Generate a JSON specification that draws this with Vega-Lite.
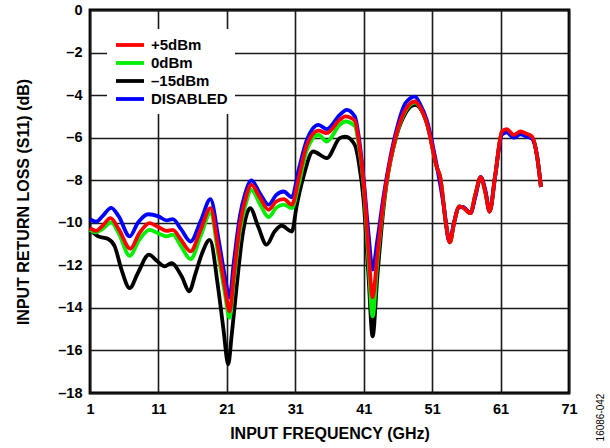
{
  "$schema": "https://vega.github.io/schema/vega-lite/v6.json",
  "autosize": "none",
  "padding": {"left": 90, "top": 10, "right": 41, "bottom": 55},
  "width": 479,
  "height": 383,
  "background": "white",
  "config": {
    "view": {"stroke": "#000", "strokeWidth": 2.8},
    "axis": {
      "labelFont": "Liberation Sans", "labelFontSize": 14.5, "labelFontWeight": "bold", "labelColor": "#000",
      "titleFont": "Liberation Sans", "titleFontSize": 16, "titleFontWeight": "bold", "titleColor": "#000",
      "grid": true, "gridColor": "#1a1a1a", "gridWidth": 1.6, "gridOpacity": 1,
      "ticks": false, "domain": false, "labelFlush": false, "labelOverlap": false
    },
    "legend": {
      "orient": "none", "legendX": 17, "legendY": 19, "fillColor": "white", "padding": 7,
      "symbolType": "M-1,0H3", "symbolSize": 196, "symbolStrokeWidth": 3.6, "symbolOpacity": 1,
      "labelFont": "Liberation Sans", "labelFontSize": 15, "labelFontWeight": "bold", "labelColor": "#000",
      "labelOffset": 19, "rowPadding": 1, "title": null
    },
    "line": {"strokeWidth": 3.8, "interpolate": "monotone"}
  },
  "data": {"values": [
    {"s":"DISABLED","f":1.0,"v":-9.83},{"s":"DISABLED","f":1.9,"v":-9.95},{"s":"DISABLED","f":2.8,"v":-9.7},{"s":"DISABLED","f":4.1,"v":-9.3},{"s":"DISABLED","f":5.2,"v":-9.7},{"s":"DISABLED","f":6.8,"v":-10.64},{"s":"DISABLED","f":8.0,"v":-10.0},{"s":"DISABLED","f":9.5,"v":-9.6},{"s":"DISABLED","f":11.0,"v":-9.7},{"s":"DISABLED","f":12.2,"v":-9.89},{"s":"DISABLED","f":13.1,"v":-9.83},{"s":"DISABLED","f":14.3,"v":-10.3},{"s":"DISABLED","f":15.7,"v":-10.88},{"s":"DISABLED","f":17.2,"v":-9.9},{"s":"DISABLED","f":18.6,"v":-8.89},{"s":"DISABLED","f":19.8,"v":-10.8},{"s":"DISABLED","f":20.7,"v":-12.5},{"s":"DISABLED","f":21.4,"v":-13.5},{"s":"DISABLED","f":22.0,"v":-11.9},{"s":"DISABLED","f":22.9,"v":-9.7},{"s":"DISABLED","f":23.7,"v":-8.6},{"s":"DISABLED","f":24.6,"v":-8.01},{"s":"DISABLED","f":25.8,"v":-8.6},{"s":"DISABLED","f":27.1,"v":-9.15},{"s":"DISABLED","f":28.2,"v":-8.7},{"s":"DISABLED","f":29.3,"v":-8.53},{"s":"DISABLED","f":30.5,"v":-8.8},{"s":"DISABLED","f":31.5,"v":-7.5},{"s":"DISABLED","f":32.7,"v":-6.1},{"s":"DISABLED","f":34.4,"v":-5.4},{"s":"DISABLED","f":35.6,"v":-5.6},{"s":"DISABLED","f":37.5,"v":-4.93},{"s":"DISABLED","f":38.5,"v":-4.69},{"s":"DISABLED","f":39.7,"v":-5.0},{"s":"DISABLED","f":40.3,"v":-6.0},{"s":"DISABLED","f":41.0,"v":-7.98},{"s":"DISABLED","f":41.7,"v":-10.5},{"s":"DISABLED","f":42.3,"v":-12.2},{"s":"DISABLED","f":43.0,"v":-10.8},{"s":"DISABLED","f":43.9,"v":-8.76},{"s":"DISABLED","f":45.8,"v":-5.63},{"s":"DISABLED","f":47.1,"v":-4.38},{"s":"DISABLED","f":48.5,"v":-4.07},{"s":"DISABLED","f":49.2,"v":-4.4},{"s":"DISABLED","f":50.2,"v":-5.16},{"s":"DISABLED","f":51.7,"v":-7.36},{"s":"DISABLED","f":52.7,"v":-9.2},{"s":"DISABLED","f":53.5,"v":-10.88},{"s":"DISABLED","f":54.2,"v":-10.0},{"s":"DISABLED","f":54.8,"v":-9.31},{"s":"DISABLED","f":55.5,"v":-9.25},{"s":"DISABLED","f":56.6,"v":-9.55},{"s":"DISABLED","f":57.3,"v":-8.8},{"s":"DISABLED","f":58.1,"v":-7.86},{"s":"DISABLED","f":58.8,"v":-8.5},{"s":"DISABLED","f":59.4,"v":-9.47},{"s":"DISABLED","f":60.2,"v":-7.82},{"s":"DISABLED","f":61.2,"v":-5.85},{"s":"DISABLED","f":61.9,"v":-5.75},{"s":"DISABLED","f":62.9,"v":-6.0},{"s":"DISABLED","f":63.9,"v":-5.85},{"s":"DISABLED","f":64.8,"v":-5.95},{"s":"DISABLED","f":65.6,"v":-6.05},{"s":"DISABLED","f":66.3,"v":-6.8},{"s":"DISABLED","f":66.9,"v":-8.32},

    {"s":"+5dBm","f":1.0,"v":-10.25},{"s":"+5dBm","f":1.9,"v":-10.38},{"s":"+5dBm","f":2.8,"v":-10.15},{"s":"+5dBm","f":4.0,"v":-9.78},{"s":"+5dBm","f":5.2,"v":-10.3},{"s":"+5dBm","f":6.9,"v":-11.22},{"s":"+5dBm","f":8.2,"v":-10.5},{"s":"+5dBm","f":9.7,"v":-10.02},{"s":"+5dBm","f":11.0,"v":-10.2},{"s":"+5dBm","f":12.2,"v":-10.38},{"s":"+5dBm","f":13.1,"v":-10.33},{"s":"+5dBm","f":14.3,"v":-10.8},{"s":"+5dBm","f":15.7,"v":-11.34},{"s":"+5dBm","f":17.2,"v":-10.3},{"s":"+5dBm","f":18.6,"v":-9.31},{"s":"+5dBm","f":19.8,"v":-11.3},{"s":"+5dBm","f":20.7,"v":-13.0},{"s":"+5dBm","f":21.4,"v":-14.16},{"s":"+5dBm","f":22.0,"v":-12.5},{"s":"+5dBm","f":22.9,"v":-10.1},{"s":"+5dBm","f":23.7,"v":-8.9},{"s":"+5dBm","f":24.6,"v":-8.22},{"s":"+5dBm","f":25.8,"v":-8.8},{"s":"+5dBm","f":27.1,"v":-9.39},{"s":"+5dBm","f":28.2,"v":-9.0},{"s":"+5dBm","f":29.3,"v":-8.89},{"s":"+5dBm","f":30.5,"v":-9.15},{"s":"+5dBm","f":31.5,"v":-7.9},{"s":"+5dBm","f":32.7,"v":-6.34},{"s":"+5dBm","f":34.4,"v":-5.67},{"s":"+5dBm","f":35.6,"v":-5.79},{"s":"+5dBm","f":37.5,"v":-5.16},{"s":"+5dBm","f":38.3,"v":-5.0},{"s":"+5dBm","f":39.7,"v":-5.2},{"s":"+5dBm","f":40.3,"v":-6.2},{"s":"+5dBm","f":41.0,"v":-8.14},{"s":"+5dBm","f":41.7,"v":-11.3},{"s":"+5dBm","f":42.3,"v":-13.5},{"s":"+5dBm","f":43.0,"v":-11.5},{"s":"+5dBm","f":43.9,"v":-9.0},{"s":"+5dBm","f":45.8,"v":-5.8},{"s":"+5dBm","f":47.1,"v":-4.69},{"s":"+5dBm","f":48.5,"v":-4.3},{"s":"+5dBm","f":49.2,"v":-4.55},{"s":"+5dBm","f":50.2,"v":-5.3},{"s":"+5dBm","f":51.7,"v":-7.4},{"s":"+5dBm","f":52.2,"v":-7.9},{"s":"+5dBm","f":53.0,"v":-10.0},{"s":"+5dBm","f":53.6,"v":-10.92},{"s":"+5dBm","f":54.2,"v":-10.0},{"s":"+5dBm","f":55.0,"v":-9.23},{"s":"+5dBm","f":55.6,"v":-9.3},{"s":"+5dBm","f":56.6,"v":-9.55},{"s":"+5dBm","f":57.3,"v":-8.7},{"s":"+5dBm","f":58.1,"v":-7.86},{"s":"+5dBm","f":58.8,"v":-8.6},{"s":"+5dBm","f":59.4,"v":-9.47},{"s":"+5dBm","f":60.2,"v":-7.82},{"s":"+5dBm","f":61.2,"v":-5.71},{"s":"+5dBm","f":61.9,"v":-5.6},{"s":"+5dBm","f":62.9,"v":-5.87},{"s":"+5dBm","f":63.9,"v":-5.71},{"s":"+5dBm","f":64.8,"v":-5.82},{"s":"+5dBm","f":65.6,"v":-5.95},{"s":"+5dBm","f":66.3,"v":-6.8},{"s":"+5dBm","f":66.9,"v":-8.32},

    {"s":"0dBm","f":1.0,"v":-10.33},{"s":"0dBm","f":1.9,"v":-10.45},{"s":"0dBm","f":2.8,"v":-10.3},{"s":"0dBm","f":4.1,"v":-9.98},{"s":"0dBm","f":5.2,"v":-10.5},{"s":"0dBm","f":6.8,"v":-11.55},{"s":"0dBm","f":8.2,"v":-10.8},{"s":"0dBm","f":9.7,"v":-10.33},{"s":"0dBm","f":11.0,"v":-10.5},{"s":"0dBm","f":12.2,"v":-10.64},{"s":"0dBm","f":13.1,"v":-10.56},{"s":"0dBm","f":14.3,"v":-11.1},{"s":"0dBm","f":15.7,"v":-11.71},{"s":"0dBm","f":17.2,"v":-10.6},{"s":"0dBm","f":18.6,"v":-9.55},{"s":"0dBm","f":19.8,"v":-11.6},{"s":"0dBm","f":20.7,"v":-13.3},{"s":"0dBm","f":21.4,"v":-14.47},{"s":"0dBm","f":22.0,"v":-12.8},{"s":"0dBm","f":22.9,"v":-10.4},{"s":"0dBm","f":23.7,"v":-9.2},{"s":"0dBm","f":24.6,"v":-8.45},{"s":"0dBm","f":25.8,"v":-9.1},{"s":"0dBm","f":27.1,"v":-9.73},{"s":"0dBm","f":28.2,"v":-9.3},{"s":"0dBm","f":29.3,"v":-9.15},{"s":"0dBm","f":30.5,"v":-9.31},{"s":"0dBm","f":31.5,"v":-8.2},{"s":"0dBm","f":32.7,"v":-6.57},{"s":"0dBm","f":34.4,"v":-5.87},{"s":"0dBm","f":35.6,"v":-6.18},{"s":"0dBm","f":37.5,"v":-5.4},{"s":"0dBm","f":38.3,"v":-5.24},{"s":"0dBm","f":39.7,"v":-5.45},{"s":"0dBm","f":40.3,"v":-6.4},{"s":"0dBm","f":41.0,"v":-8.3},{"s":"0dBm","f":41.7,"v":-11.8},{"s":"0dBm","f":42.3,"v":-14.4},{"s":"0dBm","f":43.0,"v":-11.8},{"s":"0dBm","f":43.9,"v":-9.1},{"s":"0dBm","f":45.8,"v":-5.85},{"s":"0dBm","f":47.1,"v":-4.75},{"s":"0dBm","f":48.5,"v":-4.35},{"s":"0dBm","f":49.2,"v":-4.55},{"s":"0dBm","f":50.2,"v":-5.3},{"s":"0dBm","f":51.7,"v":-7.4},{"s":"0dBm","f":52.2,"v":-7.9},{"s":"0dBm","f":53.0,"v":-10.0},{"s":"0dBm","f":53.6,"v":-10.92},{"s":"0dBm","f":54.2,"v":-10.0},{"s":"0dBm","f":55.0,"v":-9.23},{"s":"0dBm","f":55.6,"v":-9.3},{"s":"0dBm","f":56.6,"v":-9.55},{"s":"0dBm","f":57.3,"v":-8.7},{"s":"0dBm","f":58.1,"v":-7.86},{"s":"0dBm","f":58.8,"v":-8.6},{"s":"0dBm","f":59.4,"v":-9.47},{"s":"0dBm","f":60.2,"v":-7.82},{"s":"0dBm","f":61.2,"v":-5.75},{"s":"0dBm","f":61.9,"v":-5.65},{"s":"0dBm","f":62.9,"v":-5.9},{"s":"0dBm","f":63.9,"v":-5.75},{"s":"0dBm","f":64.8,"v":-5.85},{"s":"0dBm","f":65.6,"v":-5.98},{"s":"0dBm","f":66.3,"v":-6.8},{"s":"0dBm","f":66.9,"v":-8.32},

    {"s":"–15dBm","f":1.0,"v":-10.3},{"s":"–15dBm","f":2.2,"v":-10.64},{"s":"–15dBm","f":3.6,"v":-10.75},{"s":"–15dBm","f":4.6,"v":-11.1},{"s":"–15dBm","f":5.6,"v":-12.2},{"s":"–15dBm","f":6.8,"v":-13.07},{"s":"–15dBm","f":8.0,"v":-12.36},{"s":"–15dBm","f":9.6,"v":-11.5},{"s":"–15dBm","f":10.8,"v":-11.8},{"s":"–15dBm","f":11.9,"v":-12.05},{"s":"–15dBm","f":12.9,"v":-11.9},{"s":"–15dBm","f":14.4,"v":-12.52},{"s":"–15dBm","f":15.5,"v":-13.22},{"s":"–15dBm","f":16.4,"v":-12.4},{"s":"–15dBm","f":17.3,"v":-11.5},{"s":"–15dBm","f":18.5,"v":-10.8},{"s":"–15dBm","f":19.7,"v":-12.99},{"s":"–15dBm","f":20.5,"v":-15.0},{"s":"–15dBm","f":21.2,"v":-16.65},{"s":"–15dBm","f":21.7,"v":-15.3},{"s":"–15dBm","f":22.4,"v":-13.1},{"s":"–15dBm","f":23.2,"v":-10.8},{"s":"–15dBm","f":23.9,"v":-9.6},{"s":"–15dBm","f":24.4,"v":-9.31},{"s":"–15dBm","f":25.6,"v":-10.2},{"s":"–15dBm","f":26.8,"v":-11.03},{"s":"–15dBm","f":28.0,"v":-10.4},{"s":"–15dBm","f":29.0,"v":-10.14},{"s":"–15dBm","f":30.5,"v":-10.41},{"s":"–15dBm","f":31.2,"v":-9.2},{"s":"–15dBm","f":32.2,"v":-7.82},{"s":"–15dBm","f":33.6,"v":-6.65},{"s":"–15dBm","f":35.6,"v":-6.96},{"s":"–15dBm","f":37.5,"v":-6.02},{"s":"–15dBm","f":38.3,"v":-5.95},{"s":"–15dBm","f":39.7,"v":-6.34},{"s":"–15dBm","f":40.3,"v":-7.2},{"s":"–15dBm","f":41.0,"v":-9.0},{"s":"–15dBm","f":41.7,"v":-12.5},{"s":"–15dBm","f":42.3,"v":-15.34},{"s":"–15dBm","f":43.0,"v":-12.5},{"s":"–15dBm","f":43.9,"v":-9.3},{"s":"–15dBm","f":45.8,"v":-5.9},{"s":"–15dBm","f":47.1,"v":-4.85},{"s":"–15dBm","f":48.5,"v":-4.46},{"s":"–15dBm","f":49.2,"v":-4.6},{"s":"–15dBm","f":50.2,"v":-5.3},{"s":"–15dBm","f":51.7,"v":-7.4},{"s":"–15dBm","f":52.2,"v":-7.9},{"s":"–15dBm","f":53.0,"v":-10.0},{"s":"–15dBm","f":53.6,"v":-10.92},{"s":"–15dBm","f":54.2,"v":-10.0},{"s":"–15dBm","f":55.0,"v":-9.23},{"s":"–15dBm","f":55.6,"v":-9.3},{"s":"–15dBm","f":56.6,"v":-9.55},{"s":"–15dBm","f":57.3,"v":-8.7},{"s":"–15dBm","f":58.1,"v":-7.86},{"s":"–15dBm","f":58.8,"v":-8.6},{"s":"–15dBm","f":59.4,"v":-9.47},{"s":"–15dBm","f":60.2,"v":-7.82},{"s":"–15dBm","f":61.2,"v":-5.75},{"s":"–15dBm","f":61.9,"v":-5.65},{"s":"–15dBm","f":62.9,"v":-5.9},{"s":"–15dBm","f":63.9,"v":-5.75},{"s":"–15dBm","f":64.8,"v":-5.85},{"s":"–15dBm","f":65.6,"v":-5.98},{"s":"–15dBm","f":66.3,"v":-6.8},{"s":"–15dBm","f":66.9,"v":-8.32}
  ]},
  "encoding": {
    "x": {
      "field": "f", "type": "quantitative",
      "scale": {"domain": [1, 71], "nice": false, "zero": false},
      "axis": {"values": [1, 11, 21, 31, 41, 51, 61, 71], "title": "INPUT FREQUENCY (GHz)", "labelPadding": 9, "titleY": 40, "titleBaseline": "middle"}
    },
    "color": {
      "field": "s", "type": "nominal",
      "scale": {"domain": ["+5dBm", "0dBm", "–15dBm", "DISABLED"], "range": ["#ff0000", "#00ee00", "#000000", "#0000ff"]}
    }
  },
  "layer": [
    {
      "transform": [{"filter": "datum.s === '–15dBm'"}],
      "mark": {"type": "line"},
      "encoding": {
        "y": {
          "field": "v", "type": "quantitative",
          "scale": {"domain": [-18, 0], "nice": false, "zero": false},
          "axis": {
            "values": [-18, -16, -14, -12, -10, -8, -6, -4, -2, 0],
            "labelExpr": "datum.value < 0 ? '–' + abs(datum.value) : datum.label",
            "title": "INPUT RETURN LOSS (S11) (dB)", "labelPadding": 8,
            "titleX": -67, "titleY": 191.5, "titleBaseline": "middle", "titleAlign": "center"
          }
        }
      }
    },
    {
      "transform": [{"filter": "datum.s === '0dBm'"}],
      "mark": {"type": "line"},
      "encoding": {"y": {"field": "v", "type": "quantitative", "axis": null}}
    },
    {
      "transform": [{"filter": "datum.s === 'DISABLED'"}],
      "mark": {"type": "line"},
      "encoding": {"y": {"field": "v", "type": "quantitative", "axis": null}}
    },
    {
      "transform": [{"filter": "datum.s === '+5dBm'"}],
      "mark": {"type": "line"},
      "encoding": {
        "y": {
          "field": "v", "type": "quantitative",
          "axis": {
            "orient": "right", "grid": false, "labels": false, "ticks": false, "domain": false,
            "title": "16086-042", "titleFontWeight": "normal", "titleFontSize": 10,
            "titleAngle": 270, "titleX": 31, "titleY": 407, "titleAlign": "center", "titleBaseline": "middle"
          }
        }
      }
    }
  ],
  "resolve": {"axis": {"y": "independent"}}
}
